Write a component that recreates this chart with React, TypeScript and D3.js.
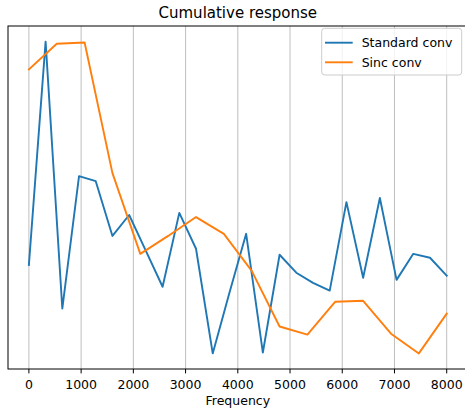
import React from "react";
import * as d3 from "d3";

const title = "Cumulative response";
const xLabel = "Frequency";
const xTicks = [0, 1000, 2000, 3000, 4000, 5000, 6000, 7000, 8000];

const standardFreqs = d3.range(26).map((i) => i * 320);
const standardValues = [
  0.353, 1.1, 0.207, 0.65, 0.633, 0.45, 0.52, 0.4, 0.28, 0.527, 0.407, 0.057, 0.26,
  0.457, 0.06, 0.387, 0.327, 0.293, 0.267, 0.563, 0.31, 0.577, 0.303, 0.39, 0.377, 0.317,
];

const sincFreqs = d3.range(16).map((i) => (i * 8000) / 15);
const sincValues = [
  1.007, 1.093, 1.097, 0.66, 0.39, 0.45, 0.513, 0.457, 0.333, 0.147, 0.12, 0.23, 0.233,
  0.123, 0.057, 0.19,
];

const seriesNames = ["Standard conv", "Sinc conv"];
const colors = ["#1f77b4", "#ff7f0e"];

export default function App() {
  const W = 465,
    H = 414;
  const left = 8,
    right = 467.6,
    top = 26,
    bottom = 369;

  const x = d3.scaleLinear().domain([-400, 8400]).range([left, right]);
  const all = [...standardValues, ...sincValues];
  const mn = d3.min(all)!,
    mx = d3.max(all)!;
  const pad = (mx - mn) * 0.05;
  const y = d3.scaleLinear().domain([mn - pad, mx + pad]).range([bottom, top]);

  const line = d3
    .line<[number, number]>()
    .x((d) => x(d[0]))
    .y((d) => y(d[1]));

  const s1 = standardFreqs.map((f, i) => [f, standardValues[i]] as [number, number]);
  const s2 = sincFreqs.map((f, i) => [f, sincValues[i]] as [number, number]);

  const font = "DejaVu Sans, sans-serif";
  const cx = (left + right) / 2;

  return (
    <svg
      width={W}
      height={H}
      style={{ position: "absolute", left: 0, top: 0, background: "#fff" }}
      fontFamily={font}
    >
      <rect x={0} y={0} width={W} height={H} fill="#fff" />
      <text x={cx} y={18} textAnchor="middle" fontSize={15} fill="#000">
        {title}
      </text>
      {/* grid */}
      {xTicks.map((t) => (
        <line key={"g" + t} x1={x(t)} x2={x(t)} y1={top} y2={bottom} stroke="#b0b0b0" strokeWidth={1} opacity={0.8} />
      ))}
      {/* lines */}
      <path d={line(s1)!} fill="none" stroke={colors[0]} strokeWidth={1.9} strokeLinejoin="round" strokeLinecap="square" />
      <path d={line(s2)!} fill="none" stroke={colors[1]} strokeWidth={1.9} strokeLinejoin="round" strokeLinecap="square" />
      {/* frame */}
      <rect x={left} y={top} width={right - left} height={bottom - top} fill="none" stroke="#000" strokeWidth={1} />
      {/* ticks */}
      {xTicks.map((t) => (
        <g key={"t" + t}>
          <line x1={x(t)} x2={x(t)} y1={bottom} y2={bottom + 4.4} stroke="#000" strokeWidth={1} />
          <text x={x(t)} y={388.5} textAnchor="middle" fontSize={12.5} fill="#000">
            {t}
          </text>
        </g>
      ))}
      <text x={cx} y={404.5} textAnchor="middle" fontSize={12.5} fill="#000">
        {xLabel}
      </text>
      {/* legend */}
      <rect x={321.7} y={28.3} width={140} height={46.7} rx={3} fill="#fff" fillOpacity={0.8} stroke="#cccccc" strokeWidth={1} />
      {seriesNames.map((n, i) => (
        <g key={n}>
          <line x1={325} x2={352.7} y1={42.7 + i * 19.6} y2={42.7 + i * 19.6} stroke={colors[i]} strokeWidth={1.9} />
          <text x={361.7} y={47.3 + i * 19.4} fontSize={12.5} fill="#000">
            {n}
          </text>
        </g>
      ))}
    </svg>
  );
}
